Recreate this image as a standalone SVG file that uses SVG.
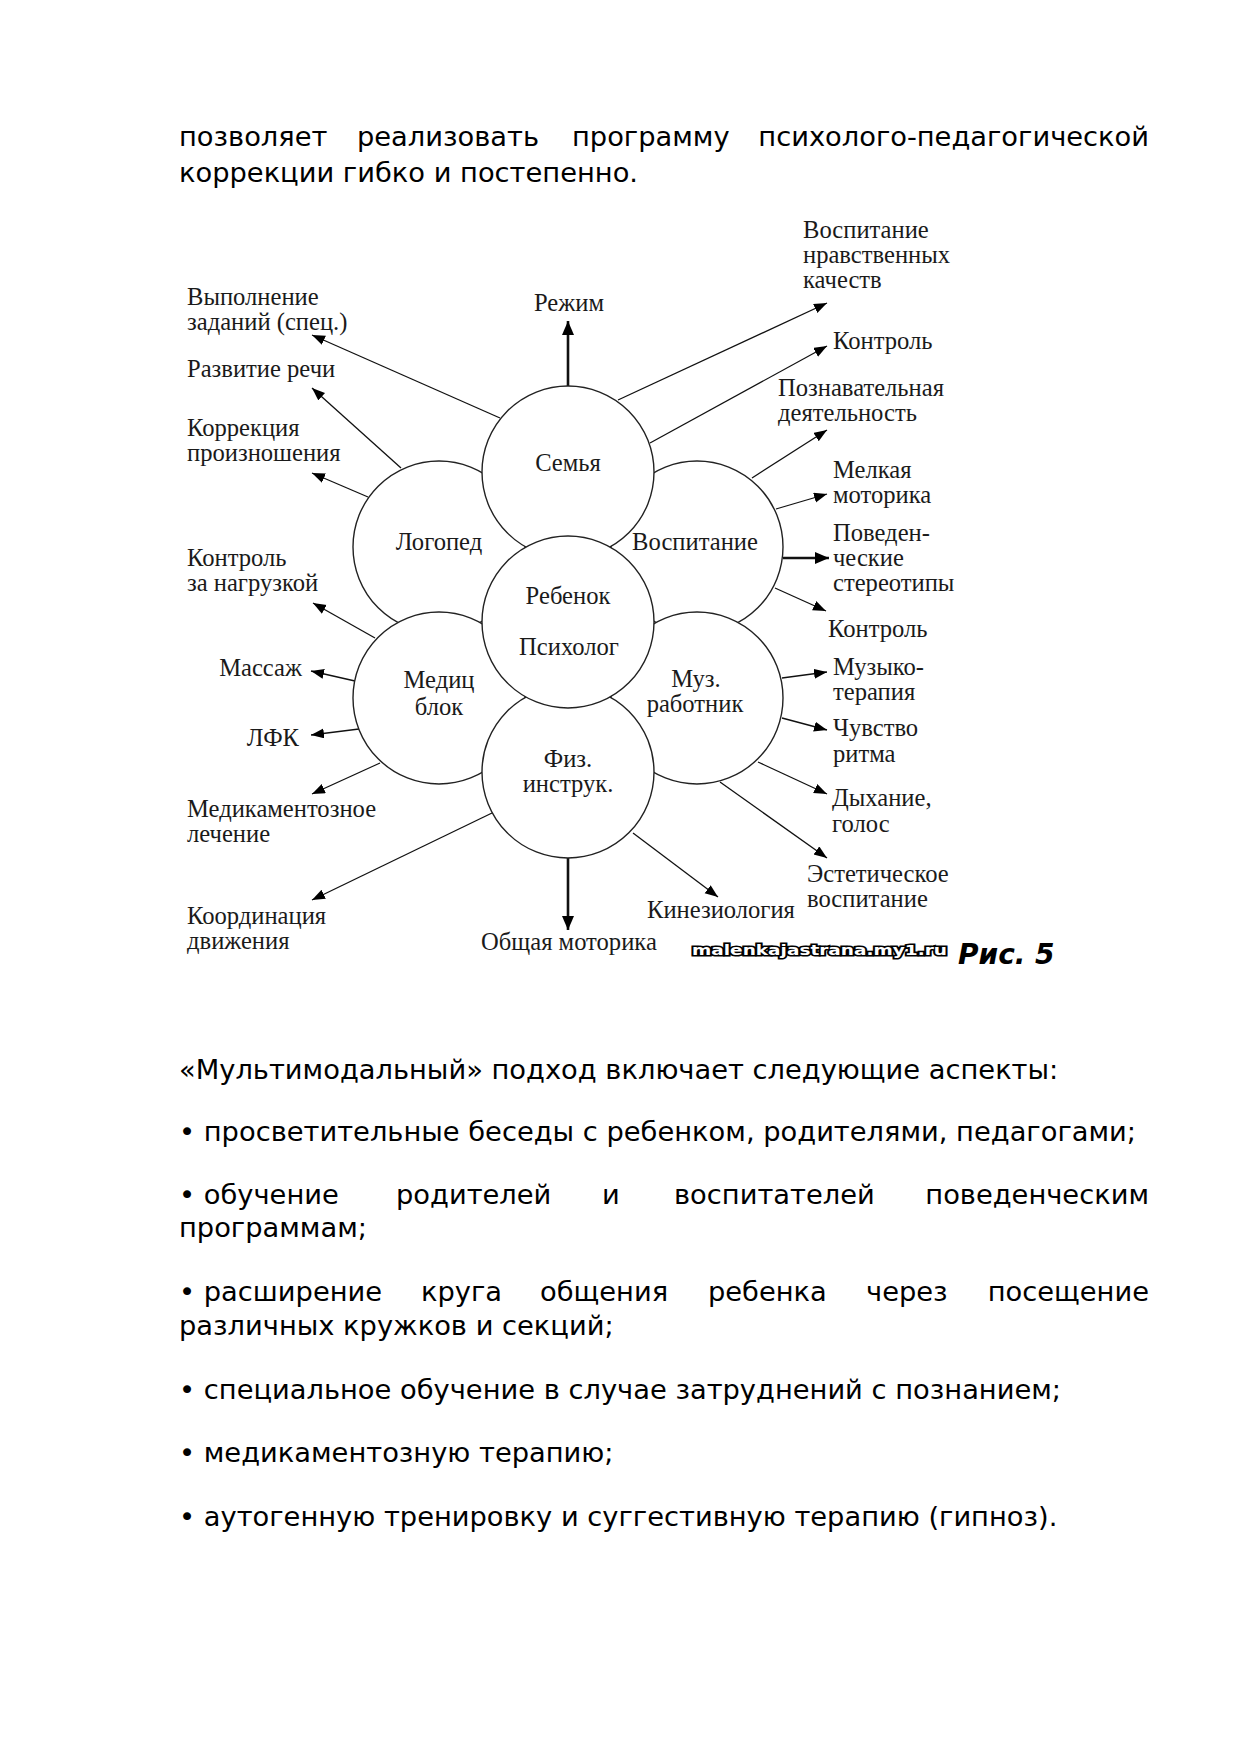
<svg xmlns="http://www.w3.org/2000/svg" width="1240" height="1754" viewBox="0 0 1240 1754">
<style>
.bg{fill:#fff}
.body{font-family:"DejaVu Sans","Verdana",sans-serif;font-size:27.3px;fill:#000}
.lbl{font-family:"Liberation Serif","Times New Roman",serif;font-size:24.6px;fill:#1a1a1a}
.mid{text-anchor:middle}
.end{text-anchor:end}
.node circle{fill:#fff;stroke:#222;stroke-width:1.4}
.conn line{stroke:#111;stroke-width:1.3}
.conn line.bold{stroke-width:2.6}
.wm{font-family:"DejaVu Sans",sans-serif;font-weight:bold;font-size:14px;fill:#fff;stroke:#000;stroke-width:3.2;paint-order:stroke;stroke-linejoin:miter}
.fig{font-family:"DejaVu Sans",sans-serif;font-weight:bold;font-style:italic;font-size:28px;fill:#000}
</style>
<defs>
<marker id="ah" markerUnits="userSpaceOnUse" markerWidth="14" markerHeight="11" refX="13" refY="5" orient="auto">
<path d="M0,0 L13,5 L0,10 z" fill="#000"/>
</marker>
<marker id="ahb" markerUnits="userSpaceOnUse" markerWidth="15" markerHeight="13" refX="14" refY="6" orient="auto">
<path d="M0,0 L14,6 L0,12 z" fill="#000"/>
</marker>
</defs>
<rect class="bg" x="0" y="0" width="1240" height="1754"/>

<g id="text-top" class="body">
<text x="179" y="146">позволяет</text>
<text x="357" y="146">реализовать</text>
<text x="572" y="146">программу</text>
<text x="1149" y="146" class="end">психолого-педагогической</text>
<text x="179" y="182">коррекции гибко и постепенно.</text>
</g>

<g id="connectors" class="conn">
<line x1="500" y1="418" x2="312" y2="335" marker-end="url(#ah)"/>
<line x1="401" y1="468" x2="312" y2="388" marker-end="url(#ah)"/>
<line x1="368" y1="497" x2="312" y2="473" marker-end="url(#ah)"/>
<line x1="375" y1="638" x2="313" y2="603" marker-end="url(#ah)"/>
<line x1="355" y1="681" x2="311" y2="671" marker-end="url(#ah)"/>
<line x1="359" y1="729" x2="311" y2="735" marker-end="url(#ah)"/>
<line x1="380" y1="763" x2="312" y2="794" marker-end="url(#ah)"/>
<line x1="492" y1="813" x2="312" y2="900" marker-end="url(#ah)"/>
<line x1="633" y1="833" x2="718" y2="897" marker-end="url(#ah)"/>
<line x1="618" y1="400" x2="827" y2="303" marker-end="url(#ah)"/>
<line x1="650" y1="443" x2="827" y2="346" marker-end="url(#ah)"/>
<line x1="752" y1="478" x2="827" y2="430" marker-end="url(#ah)"/>
<line x1="776" y1="509" x2="827" y2="494" marker-end="url(#ah)"/>
<line x1="775" y1="588" x2="826" y2="611" marker-end="url(#ah)"/>
<line x1="782" y1="678" x2="827" y2="672" marker-end="url(#ah)"/>
<line x1="782" y1="718" x2="827" y2="730" marker-end="url(#ah)"/>
<line x1="758" y1="762" x2="827" y2="794" marker-end="url(#ah)"/>
<line x1="720" y1="782" x2="827" y2="858" marker-end="url(#ah)"/>
<line class="bold" x1="568" y1="388" x2="568" y2="321" marker-end="url(#ahb)"/>
<line class="bold" x1="783" y1="558" x2="829" y2="558" marker-end="url(#ahb)"/>
<line class="bold" x1="568" y1="857" x2="568" y2="930" marker-end="url(#ahb)"/>
</g>

<g id="node-logoped" class="node">
<circle cx="439" cy="547" r="86"/>
<text class="lbl mid" x="439" y="550">Логопед</text>
</g>
<g id="node-vospitanie" class="node">
<circle cx="697" cy="547" r="86"/>
<text class="lbl mid" x="695" y="550">Воспитание</text>
</g>
<g id="node-medic" class="node">
<circle cx="439" cy="698" r="86"/>
<text class="lbl mid" x="439" y="688">Медиц</text>
<text class="lbl mid" x="439" y="715">блок</text>
</g>
<g id="node-muz" class="node">
<circle cx="697" cy="698" r="86"/>
<text class="lbl mid" x="696" y="687">Муз.</text>
<text class="lbl mid" x="695" y="712">работник</text>
</g>
<g id="node-semya" class="node">
<circle cx="568" cy="472" r="86"/>
<text class="lbl mid" x="568" y="471">Семья</text>
</g>
<g id="node-fiz" class="node">
<circle cx="568" cy="772" r="86"/>
<text class="lbl mid" x="568" y="767">Физ.</text>
<text class="lbl mid" x="568" y="792">инструк.</text>
</g>
<g id="node-center" class="node">
<circle cx="568" cy="622" r="86"/>
<text class="lbl mid" x="568" y="604">Ребенок</text>
<text class="lbl mid" x="569" y="655">Психолог</text>
</g>

<g id="labels-left" class="lbl">
<text x="187" y="305">Выполнение</text>
<text x="187" y="330">заданий (спец.)</text>
<text x="187" y="377">Развитие речи</text>
<text x="187" y="436">Коррекция</text>
<text x="187" y="461">произношения</text>
<text x="187" y="566">Контроль</text>
<text x="187" y="591">за нагрузкой</text>
<text x="302" y="676" class="end">Массаж</text>
<text x="299" y="746" class="end">ЛФК</text>
<text x="187" y="817">Медикаментозное</text>
<text x="187" y="842">лечение</text>
<text x="187" y="924">Координация</text>
<text x="187" y="949">движения</text>
</g>

<g id="labels-top-bottom" class="lbl">
<text x="569" y="311" class="mid">Режим</text>
<text x="481" y="950">Общая моторика</text>
<text x="647" y="918">Кинезиология</text>
</g>

<g id="labels-right" class="lbl">
<text x="803" y="238">Воспитание</text>
<text x="803" y="263">нравственных</text>
<text x="803" y="288">качеств</text>
<text x="833" y="349">Контроль</text>
<text x="778" y="396">Познавательная</text>
<text x="778" y="421">деятельность</text>
<text x="833" y="478">Мелкая</text>
<text x="833" y="503">моторика</text>
<text x="833" y="541">Поведен-</text>
<text x="833" y="566">ческие</text>
<text x="833" y="591">стереотипы</text>
<text x="828" y="637">Контроль</text>
<text x="833" y="675">Музыко-</text>
<text x="833" y="700">терапия</text>
<text x="833" y="736">Чувство</text>
<text x="833" y="762">ритма</text>
<text x="832" y="806">Дыхание,</text>
<text x="832" y="832">голос</text>
<text x="807" y="882">Эстетическое</text>
<text x="807" y="907">воспитание</text>
</g>

<g id="caption">
<text class="wm" x="692" y="955" textLength="255" lengthAdjust="spacingAndGlyphs">malenkajastrana.my1.ru</text>
<text class="fig" x="958" y="964">Рис. 5</text>
</g>

<g id="text-bottom" class="body">
<text x="179" y="1079">«Мультимодальный» подход включает следующие аспекты:</text>
<text x="179" y="1141">• просветительные беседы с ребенком, родителями, педагогами;</text>
<text x="179" y="1204">• обучение</text>
<text x="396" y="1204">родителей</text>
<text x="602" y="1204">и</text>
<text x="674" y="1204">воспитателей</text>
<text x="1149" y="1204" class="end">поведенческим</text>
<text x="179" y="1237">программам;</text>
<text x="179" y="1301">• расширение</text>
<text x="421" y="1301">круга</text>
<text x="540" y="1301">общения</text>
<text x="708" y="1301">ребенка</text>
<text x="866" y="1301">через</text>
<text x="1149" y="1301" class="end">посещение</text>
<text x="179" y="1335">различных кружков и секций;</text>
<text x="179" y="1399">• специальное обучение в случае затруднений с познанием;</text>
<text x="179" y="1462">• медикаментозную терапию;</text>
<text x="179" y="1526">• аутогенную тренировку и суггестивную терапию (гипноз).</text>
</g>
</svg>
